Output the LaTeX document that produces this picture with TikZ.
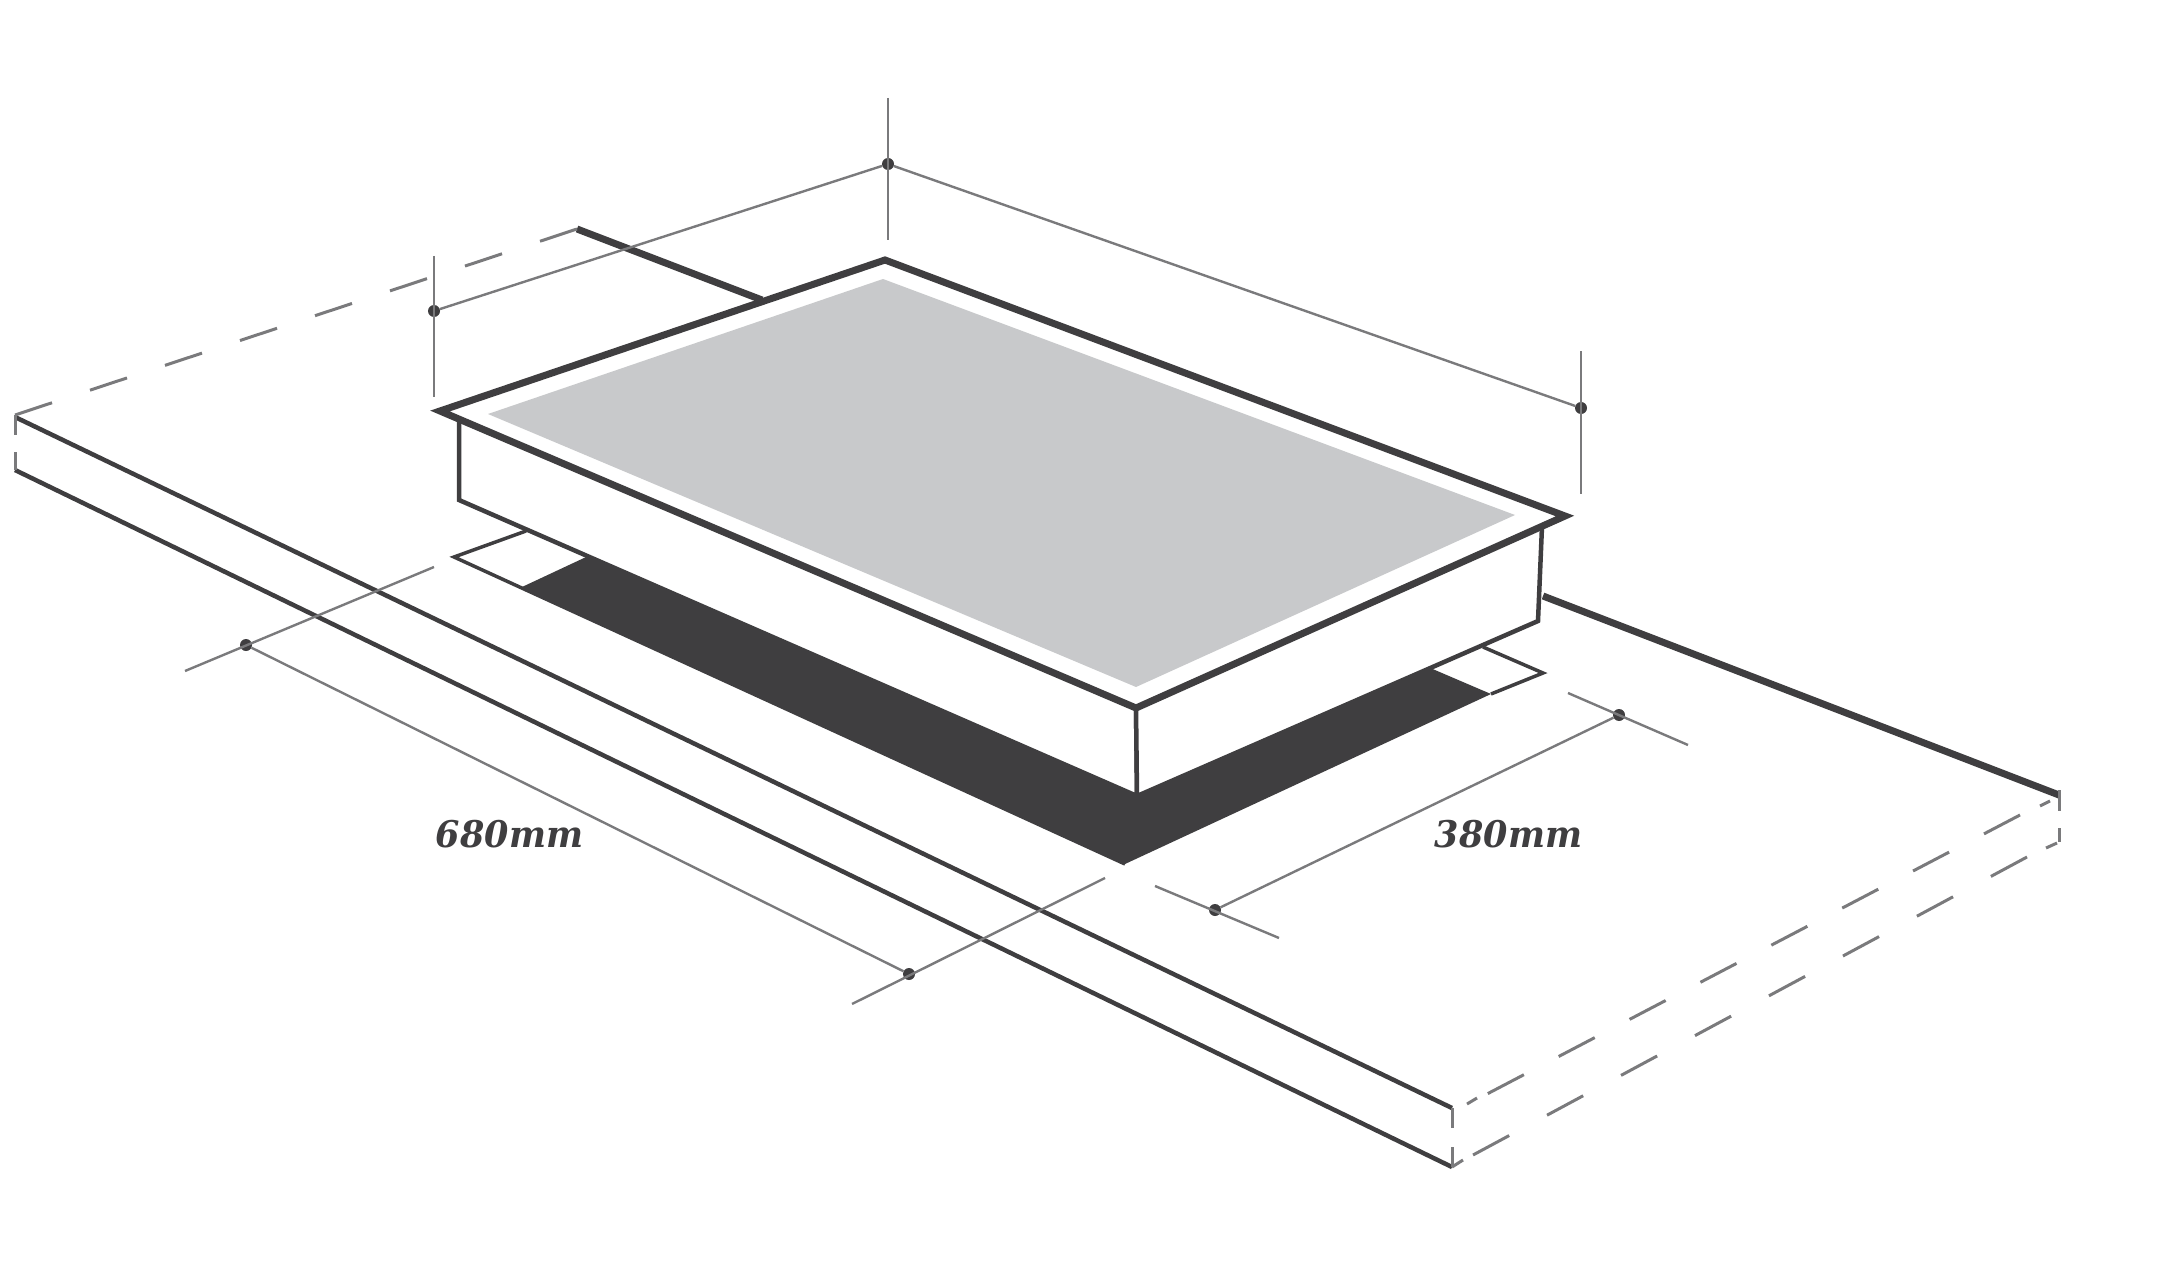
\documentclass[tikz,border=0pt]{standalone}
\usepackage{fontspec}
\newfontfamily\dimfont{DejaVu Serif}
\definecolor{ink}{HTML}{3F3E40}
\definecolor{thin}{HTML}{7A7A7C}
\definecolor{glass}{HTML}{C8C9CB}
\tikzset{
  worktop/.style={draw=ink,line width=4.5pt},
  thick edge/.style={draw=ink,line width=7pt,line join=miter,miter limit=10},
  hobside/.style={draw=ink,line width=4.5pt,fill=white,line join=miter},
  slotline/.style={draw=ink,line width=3.5pt,line join=miter},
  hidden/.style={draw=thin,line width=3pt,dash pattern=on 39pt off 40pt},
  hiddentop/.style={draw=thin,line width=3pt,dash pattern=on 40.7pt off 39.3pt},
  hiddenlow/.style={draw=thin,line width=3pt,dash pattern=on 41pt off 43pt},
  edgestub/.style={draw=thin,line width=3pt},
  dimline/.style={draw=thin,line width=2.4pt},
  dimdot/.style={circle,fill=ink,inner sep=0pt,minimum size=12pt},
  dimtext/.style={text=ink,font=\dimfont\bfseries\itshape\fontsize{35}{35}\selectfont,inner sep=0pt,yscale=1.05}
}
\begin{document}
\begin{tikzpicture}[x=1pt,y=-1pt]
\useasboundingbox (0,0) rectangle (2183,1281);
% worktop corners
\coordinate (wtA) at (15,417);
\coordinate (wtAb) at (15,470);
\coordinate (wtB) at (577,229);
\coordinate (wtBe) at (762,300);
\coordinate (wtC) at (1543,596);
\coordinate (wtD) at (2059,795);
\coordinate (wtE) at (1452,1108);
\coordinate (wtF) at (1452,1167);
% hob
\coordinate (hB) at (885,260);
\coordinate (hL) at (440,411);
\coordinate (hF) at (1136,708);
\coordinate (hR) at (1565,516);
\coordinate (hLb) at (459,500);
\coordinate (hFb) at (1137,796);
\coordinate (hRb) at (1538,621);
\coordinate (hLt) at (459,420);
\coordinate (hRt) at (1542,526);
\coordinate (gB) at (883,279);
\coordinate (gL) at (488,414);
\coordinate (gF) at (1136,687);
\coordinate (gR) at (1515,515);
% cut-out
\coordinate (sA) at (526,531);
\coordinate (sB) at (454,557);
\coordinate (sC) at (522,587);
\coordinate (sD) at (600,550.5);
\coordinate (sE) at (1125,864);
\coordinate (sF) at (1491,694);
\coordinate (sG) at (1420,663.6);
\coordinate (sH) at (1543,673);
\coordinate (sI) at (1483,647);
% worktop lines
\draw[worktop] (wtA) -- (wtE);
\draw[worktop] (wtAb) -- (wtF);
\draw[thick edge] (wtB) -- (wtBe);
\draw[thick edge] (wtC) -- (wtD);
% worktop broken edges
\coordinate (vA1) at (15,435);
\coordinate (vA2) at (15,452);
\draw[edgestub] (15,415) -- (vA1);
\draw[edgestub] (vA2) -- (wtAb);
\draw[edgestub] (2059,790) -- (2059,811);
\draw[edgestub] (2059,828) -- (2059,842);
\draw[edgestub] (wtE) -- (1452,1128);
\draw[edgestub] (1452,1147) -- (wtF);
\draw[hidden] (15,415) -- (wtB);
\draw[hiddentop] (2020,815) -- (1487,1094);
\draw[edgestub] (2050,801) -- (2040,806);
\draw[edgestub] (1477,1098) -- (1467,1104);
\draw[hiddenlow] (2027,857) -- (1473,1155);
\draw[edgestub] (2057,843) -- (2046,848);
\draw[edgestub] (1463,1160) -- (wtF);
% cut-out
\fill[ink] (sD) -- (sC) -- (sE) -- (sF) -- (sG) -- (hFb) -- cycle;
\draw[slotline] (sA) -- (sB) -- (sE);
\draw[slotline] (sI) -- (sH) -- (sF);
% hob body
\path[hobside] (hLt) -- (hLb) -- (hFb) -- (hF) -- (hL) -- cycle;
\path[hobside] (hRt) -- (hRb) -- (hFb) -- (hF) -- (hR) -- cycle;
\path[thick edge,fill=white] (hB) -- (hR) -- (hF) -- (hL) -- cycle;
\fill[glass] (gB) -- (gR) -- (gF) -- (gL) -- cycle;
% dimensions
\node[dimdot] (dTop) at (888,164) {};
\node[dimdot] (dLeft) at (434,311) {};
\node[dimdot] (dRight) at (1581,408) {};
\node[dimdot] (dA) at (246,645) {};
\node[dimdot] (dB) at (909,974) {};
\node[dimdot] (dC) at (1215,910) {};
\node[dimdot] (dD) at (1619,715) {};
\coordinate (eT1) at (888,98);
\coordinate (eT2) at (888,240);
\coordinate (eL1) at (434,256);
\coordinate (eL2) at (434,397);
\coordinate (eR1) at (1581,351);
\coordinate (eR2) at (1581,494);
\coordinate (eA1) at (185,671);
\coordinate (eA2) at (434,567);
\coordinate (eB1) at (852,1004);
\coordinate (eB2) at (1105,878);
\coordinate (eC1) at (1155,886);
\coordinate (eC2) at (1279,938);
\coordinate (eD1) at (1568,693);
\coordinate (eD2) at (1688,745);
\draw[dimline] (eT1) -- (eT2);
\draw[dimline] (eL1) -- (eL2);
\draw[dimline] (eR1) -- (eR2);
\draw[dimline] (eA1) -- (eA2);
\draw[dimline] (eB1) -- (eB2);
\draw[dimline] (eC1) -- (eC2);
\draw[dimline] (eD1) -- (eD2);
\draw[dimline] (dLeft) -- (dTop);
\draw[dimline] (dTop) -- (dRight);
\draw[dimline] (dA) -- (dB);
\draw[dimline] (dC) -- (dD);
\node[dimtext] (lenlabel) at (509.5,834) {680mm};
\node[dimtext] (widlabel) at (1508.5,834) {380mm};
\end{tikzpicture}
\end{document}
